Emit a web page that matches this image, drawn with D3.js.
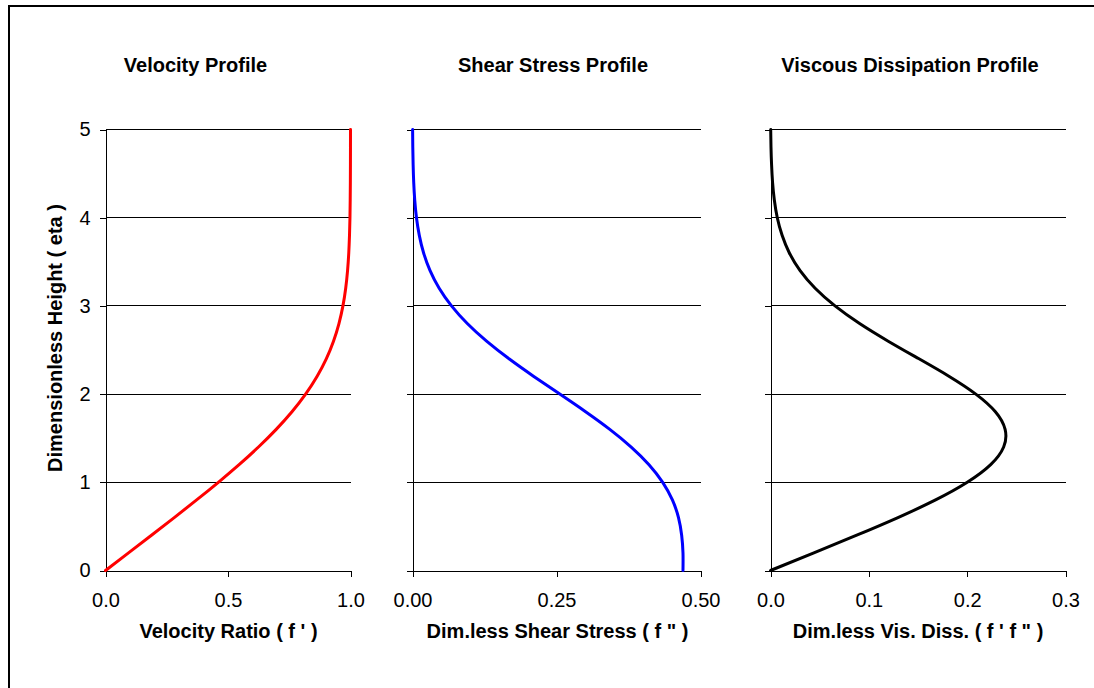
<!DOCTYPE html>
<html>
<head>
<meta charset="utf-8">
<script src="https://cdn.jsdelivr.net/npm/d3@7/dist/d3.min.js"></script>
<style>
  html, body { margin: 0; padding: 0; background: #fff; }
  svg { display: block; font-family: "Liberation Sans", Arial, sans-serif; }
</style>
</head>
<body>
<svg id="chart" width="1094" height="688"></svg>
<script>
// Blasius boundary layer solution (f''' + f f'' = 0)
const eta = [0.0, 0.2, 0.4, 0.6, 0.8, 1.0, 1.2, 1.4, 1.6, 1.8, 2.0, 2.2, 2.4,
             2.6, 2.8, 3.0, 3.2, 3.4, 3.6, 3.8, 4.0, 4.2, 4.4, 4.6, 4.8, 5.0];
// f'  : velocity ratio u/U
const velocityRatio = [0.0000, 0.0939, 0.1876, 0.2806, 0.3720, 0.4606, 0.5453, 0.6244,
                       0.6967, 0.7611, 0.8167, 0.8633, 0.9011, 0.9306, 0.9529, 0.9691,
                       0.9804, 0.9880, 0.9929, 0.9959, 0.9978, 0.9988, 0.9994, 0.9997,
                       0.9999, 1.0000];
// f'' : dimensionless shear stress
const shearStress = [0.4696, 0.4696, 0.4673, 0.4618, 0.4512, 0.4344, 0.4106, 0.3797,
                     0.3425, 0.3005, 0.2557, 0.2106, 0.1676, 0.1286, 0.0951, 0.0677,
                     0.0463, 0.0305, 0.0193, 0.0118, 0.0069, 0.0039, 0.0021, 0.0011,
                     0.0005, 0.0002];
// f' f'' : dimensionless viscous dissipation
const viscousDissipation = [0.0000, 0.0441, 0.0877, 0.1296, 0.1679, 0.2001, 0.2239, 0.2371,
                            0.2386, 0.2287, 0.2088, 0.1818, 0.1510, 0.1197, 0.0906, 0.0656,
                            0.0454, 0.0301, 0.0192, 0.0118, 0.0069, 0.0039, 0.0021, 0.0011,
                            0.0005, 0.0002];

const etaTicks = [0, 1, 2, 3, 4, 5];
const velocityTicks = [0, 0.5, 1.0];
const shearTicks = [0, 0.25, 0.5];
const dissipationTicks = [0, 0.1, 0.2, 0.3];

const panelTitles = ["Velocity Profile", "Shear Stress Profile", "Viscous Dissipation Profile"];
const axisTitles = ["Velocity Ratio ( f ' )", "Dim.less Shear Stress ( f \" )", "Dim.less Vis. Diss. ( f ' f \" )"];
const yTitle = "Dimensionless Height ( eta )";

const svg = d3.select("#chart");

// outer chart frame
svg.append("rect")
  .attr("x", 9).attr("y", 6)
  .attr("width", 1100).attr("height", 700)
  .attr("fill", "none").attr("stroke", "#000").attr("stroke-width", 2);

const yScale = d3.scaleLinear().domain([0, 5]).range([570.5, 129.5]);

const panels = [
  { values: velocityRatio, ticks: velocityTicks, domain: [0, 1], range: [105.5, 350.5],
    fmt: d3.format(".1f"), color: "#ff0000", titleX: 195.5, axisTitleX: 228.5, yLabels: true },
  { values: shearStress, ticks: shearTicks, domain: [0, 0.5], range: [412.5, 700.5],
    fmt: d3.format(".2f"), color: "#0000ff", titleX: 553, axisTitleX: 557.5, yLabels: false },
  { values: viscousDissipation, ticks: dissipationTicks, domain: [0, 0.3], range: [770.5, 1065.5],
    fmt: d3.format(".1f"), color: "#000000", titleX: 910, axisTitleX: 918, yLabels: false }
];

panels.forEach((p, i) => {
  const x = d3.scaleLinear().domain(p.domain).range(p.range);
  const g = svg.append("g");

  // horizontal gridlines
  g.append("g").selectAll("line").data(etaTicks.filter(t => t > 0)).join("line")
    .attr("x1", p.range[0]).attr("x2", p.range[1])
    .attr("y1", d => yScale(d)).attr("y2", d => yScale(d))
    .attr("stroke", "#000").attr("stroke-width", 1)
    .attr("shape-rendering", "crispEdges");

  // y axis
  const yAxis = d3.axisLeft(yScale).tickValues(etaTicks).tickSizeInner(6).tickSizeOuter(0)
    .tickPadding(9).tickFormat(p.yLabels ? d3.format("d") : () => "");
  const ya = g.append("g").attr("transform", `translate(${p.range[0]},0)`).call(yAxis);

  // x axis
  const xAxis = d3.axisBottom(x).tickValues(p.ticks).tickSizeInner(6).tickSizeOuter(0)
    .tickPadding(16).tickFormat(p.fmt);
  const xa = g.append("g").attr("transform", `translate(0,${yScale(0)})`).call(xAxis);

  [ya, xa].forEach(a => {
    a.selectAll("path, line").attr("stroke", "#000").attr("shape-rendering", "crispEdges");
    a.selectAll("text").attr("font-size", 20).attr("fill", "#000")
      .attr("font-family", "'Liberation Sans', Arial, sans-serif");
  });

  // profile curve (parametric spline along evenly spaced eta)
  const pts = eta.map((e, k) => ({ e, v: p.values[k] }));
  const line = d3.line().x(d => x(d.v)).y(d => yScale(d.e)).curve(d3.curveNatural);
  g.append("path").datum(pts)
    .attr("d", line)
    .attr("fill", "none").attr("stroke", p.color).attr("stroke-width", 3)
    .attr("stroke-linejoin", "round").attr("stroke-linecap", "round");

  // panel title
  g.append("text").attr("x", p.titleX).attr("y", 72)
    .attr("text-anchor", "middle").attr("font-size", 20).attr("font-weight", "bold")
    .text(panelTitles[i]);

  // x axis title
  g.append("text").attr("x", p.axisTitleX).attr("y", 638)
    .attr("text-anchor", "middle").attr("font-size", 20).attr("font-weight", "bold")
    .text(axisTitles[i]);
});

// y axis title
svg.append("text")
  .attr("transform", "translate(62,338) rotate(-90)")
  .attr("text-anchor", "middle").attr("font-size", 20).attr("font-weight", "bold")
  .text(yTitle);
</script>
</body>
</html>
